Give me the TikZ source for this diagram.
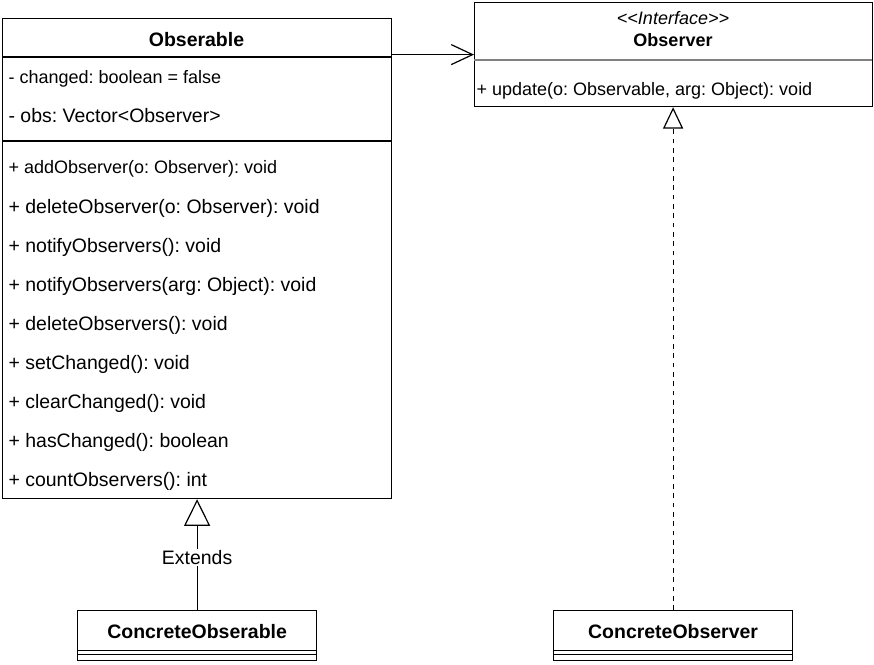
\documentclass[tikz,border=0pt]{standalone}
\usepackage{fontspec}
\setmainfont{Liberation Sans}
\usetikzlibrary{arrows.meta,positioning}
\frenchspacing

\begin{document}
\begin{tikzpicture}[x=0.75pt, y=-0.75pt, line width=0.9pt,
    big/.style = {font=\fontsize{14.6pt}{17pt}\selectfont},
    small/.style = {font=\fontsize{13.5pt}{16pt}\selectfont},
    classbox/.style = {draw, fill=white, inner sep=0pt, anchor=north west},
    member/.style = {anchor=west, inner sep=0pt, text height=0.72em, text depth=0.2em},
    extends/.style = {-{Triangle[open, length=20pt, width=19.5pt]}},
    realize/.style = {-{Triangle[open, length=16pt, width=15pt]}, dash pattern=on 3.5pt off 3.5pt},
    assoc/.style = {-{Straight Barb[length=16pt, width=15pt]}}]
    \useasboundingbox (0,0) rectangle (874,664);

    \node[classbox, minimum width=389*0.75pt, minimum height=480*0.75pt] (obsable) at (2,18) {};
    \node[classbox, minimum width=398*0.75pt, minimum height=104*0.75pt] (observer) at (474,2) {};
    \node[classbox, minimum width=239*0.75pt, minimum height=50*0.75pt] (cobsable) at (77,610) {};
    \node[classbox, minimum width=239*0.75pt, minimum height=50*0.75pt] (cobserver) at (553,610) {};

    % Obserable
    \node[big, font=\bfseries\fontsize{14.6pt}{17pt}\selectfont] (obstitle) at (196.5,40) {Obserable};
    \draw (2,57) -- (391,57);
    \draw (2,141) -- (391,141);
    \node[member, small] (attr1) at (8,80) {- changed: boolean = false};
    \node[member, big] (attr2) at (8,119) {- obs: Vector<Observer>};
    \node[member, small] (meth0) at (8,170) {+ addObserver(o: Observer): void};
    \foreach \txt [count=\i] in {{+ deleteObserver(o: Observer): void}, {+ notifyObservers(): void},
        {+ notifyObservers(arg: Object): void}, {+ deleteObservers(): void}, {+ setChanged(): void},
        {+ clearChanged(): void}, {+ hasChanged(): boolean}, {+ countObservers(): int}}
        \node[member, big] (meth\i) at (8,171+39*\i) {\txt};

    % Observer
    \node[small, font=\itshape\fontsize{13.5pt}{16pt}\selectfont] (stereo) at (673,18) {<\kern0pt<Interface>\kern0pt>};
    \node[small, font=\bfseries\fontsize{13.5pt}{16pt}\selectfont] (ifname) at (673,40) {Observer};
    \draw[gray] (474,60) -- (872,60);
    \node[member, small] (update) at (476,92) {+ update(o: Observable, arg: Object): void};

    % concrete classes
    \node[font=\bfseries\fontsize{14.6pt}{17pt}\selectfont] (cobstitle) at (cobsable.center |- 0,632) {ConcreteObserable};
    \draw[line width=0.75pt] (77,650) -- (316,650);
    \draw[line width=0.75pt] (77,654) -- (316,654);
    \node[font=\bfseries\fontsize{14.6pt}{17pt}\selectfont] (cobstitle2) at (cobserver.center |- 0,632) {ConcreteObserver};
    \draw[line width=0.75pt] (553,650) -- (792,650);
    \draw[line width=0.75pt] (553,654) -- (792,654);

    \draw[assoc] (obsable.east |- observer.west) -- (observer.west);
    \draw[extends] (cobsable.north) -- node[pos=.47, fill=white, inner sep=1pt, big] {Extends} (obsable.south);
    \draw[realize] (cobserver.north) -- (cobserver.north |- observer.south);
\end{tikzpicture}
\end{document}
